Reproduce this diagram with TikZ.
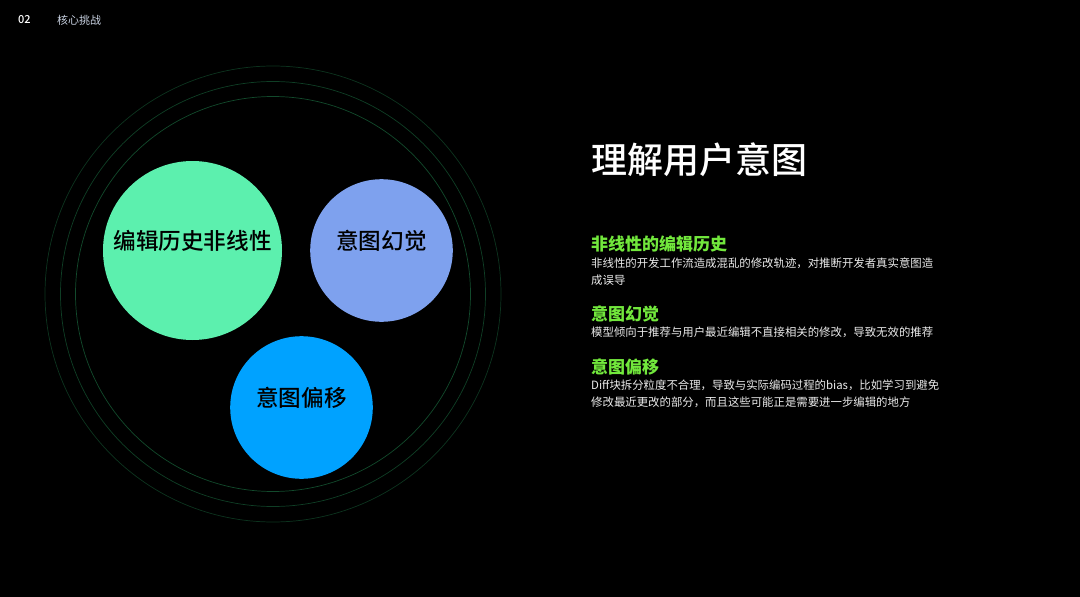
\documentclass[tikz,border=0pt]{standalone}
\usepackage{fontspec}
\setmainfont{Noto Sans CJK SC}
\newfontfamily\cjkmed{Noto Sans CJK SC Medium}
\usepackage{tikz}
\usetikzlibrary{positioning}
\definecolor{ringgreen}{HTML}{124A2C}
\definecolor{mint}{HTML}{5CF0AE}
\definecolor{periwinkle}{HTML}{7EA1EE}
\definecolor{skyblue}{HTML}{00A2FF}
\definecolor{lime}{HTML}{72E83C}
\definecolor{paleblue}{HTML}{C9D2E2}

\begin{document}
\begin{tikzpicture}[x=1pt,y=-1pt,
  ring/.style={draw=ringgreen,line width=0.7pt},
  bubble/.style={circle,inner sep=0pt,text=black,font=\cjkmed\fontsize{22.6}{26}\selectfont},
  head/.style={anchor=west,text=lime,font=\bfseries\fontsize{17}{20}\selectfont},
  body/.style={anchor=north west,text=white!92!black,align=left,inner sep=0pt,
    font=\fontsize{11.4}{16.5}\selectfont}]
\fill[black] (0,0) rectangle (1080,597);
\draw[ring,draw opacity=0.7] (273,294) circle (228);
\draw[ring,draw opacity=0.85] (273,294) circle (212.5);
\draw[ring] (273,294) circle (197.5);
\fill[mint] (192.5,250.5) circle (89.5);
\fill[periwinkle] (381.5,250.5) circle (71.3);
\fill[skyblue] (301.5,407.5) circle (71.3);
\node[bubble] (history) at (192.5,241) {编辑历史非线性};
\node[bubble] (halluc) at (381.5,241) {意图幻觉};
\node[bubble] (drift) at (301.5,398) {意图偏移};
\node[anchor=west,text=white,font=\cjkmed\fontsize{11}{13}\selectfont,inner sep=0pt] (pagenum) at (18,20) {02};
\node[anchor=west,text=paleblue,font=\fontsize{11}{13}\selectfont,inner sep=0pt] (section) at (57,20) {核心挑战};
\node[anchor=west,text=white,font=\cjkmed\fontsize{36}{40}\selectfont,inner sep=0pt] (title) at (591,160) {理解用户意图};
\node[head,inner sep=0pt] (h1) at (591,244) {非线性的编辑历史};
\node[body] (b1) at (591,258) {非线性的开发工作流造成混乱的修改轨迹，对推断开发者真实意图造\\成误导};
\node[head,inner sep=0pt] (h2) at (591,314) {意图幻觉};
\node[body] (b2) at (591,327) {模型倾向于推荐与用户最近编辑不直接相关的修改，导致无效的推荐};
\node[head,inner sep=0pt] (h3) at (591,367) {意图偏移};
\node[body] (b3) at (591,380) {Diff块拆分粒度不合理，导致与实际编码过程的bias，比如学习到避免\\修改最近更改的部分，而且这些可能正是需要进一步编辑的地方};
\end{tikzpicture}
\end{document}
